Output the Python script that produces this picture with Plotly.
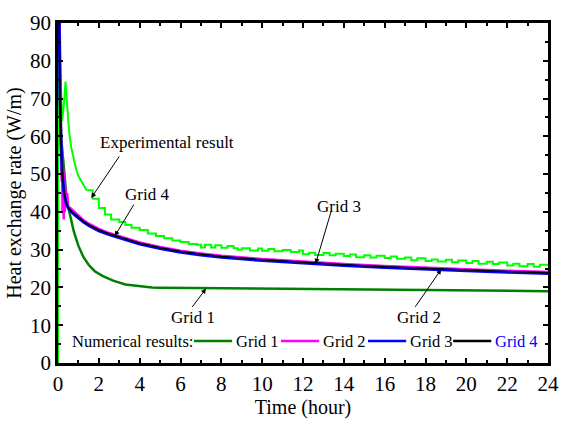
import plotly.graph_objects as go

# ---------------- data ----------------
exp_t = [0, 0.02, 0.1, 0.2, 0.28, 0.37, 0.45, 0.55, 0.65, 0.77, 0.9, 1.0, 1.2, 1.4, 1.7,
         2.0, 2.3, 2.6, 3.0, 3.3, 3.6, 4.0, 4.4, 4.8, 5.2, 5.6, 6.0, 6.4, 6.8, 7.0, 7.2,
         7.5, 7.7, 8.0, 8.3, 8.6, 8.8, 9.0, 9.4, 9.8, 10.0, 10.3, 10.6, 11.0, 11.4, 11.8,
         12.0, 12.3, 12.6, 13.0, 13.3, 13.6, 14.0, 14.3, 14.6, 15.0, 15.3, 15.6, 16.0,
         16.3, 16.6, 17.0, 17.3, 17.6, 18.0, 18.3, 18.6, 19.0, 19.3, 19.6, 20.0, 20.3,
         20.6, 21.0, 21.3, 21.6, 22.0, 22.3, 22.6, 23.0, 23.3, 23.6, 24.0]
exp_v = [0, 95, 80, 64, 68, 74.5, 68, 61, 57, 54, 51, 49.5, 47.5, 45.7, 43.5,
         41, 39.3, 38, 37.3, 36.5, 35.8, 35.2, 34.3, 33.6, 33.0, 32.4, 32.0, 31.5, 31.3, 30.6, 31.3,
         30.6, 31.2, 30.5, 31.0, 30.4, 30.0, 30.4, 29.8, 30.3, 29.7, 30.2, 29.6, 29.9, 29.4, 29.8,
         28.8, 29.2, 28.6, 29.1, 28.5, 28.9, 28.3, 28.7, 28.0, 28.5, 27.9, 28.4, 27.8,
         28.2, 27.6, 27.9, 27.2, 27.7, 27.0, 27.4, 26.9, 27.3, 26.7, 27.1, 26.5, 27.0,
         26.3, 26.8, 26.2, 26.6, 25.8, 26.3, 25.6, 26.2, 25.5, 26.0, 25.8]
EXP_SMOOTH_END = 13  # early peak drawn as straight segments, the rest as steps

g1_t = [0, 0.05, 0.1, 0.15, 0.2, 0.29, 0.43, 0.6, 0.77, 1.0, 1.25, 1.5, 1.8, 2.2, 2.7,
        3.3, 4.0, 4.6, 5, 6, 8, 10, 12, 14, 16, 18, 20, 22, 24]
g1_v = [120, 90, 70, 60, 56, 51.6, 43, 38.5, 34.9, 31, 28, 26, 24.3, 23, 21.8,
        20.8, 20.3, 20.0, 19.95, 19.9, 19.8, 19.7, 19.6, 19.5, 19.4, 19.3, 19.2, 19.1, 19.0]

g2_t = [0, 0.1, 0.13, 0.15, 0.18, 0.2, 0.22, 0.25, 0.28, 0.3, 0.33, 0.36, 0.4, 0.45,
        0.5, 0.6, 0.8, 1.0, 1.25, 1.5, 2, 2.5, 3, 4, 5, 6, 7, 8, 10, 12, 14, 16, 18, 20, 22, 24]
g2_v = [120, 90, 72, 55, 48, 56, 40, 52, 38, 50, 40, 47, 42, 45,
        41, 41, 40, 38.8, 37.8, 36.9, 35.5, 34.4, 33.5, 31.9, 30.7, 29.7, 29.0, 28.4,
        27.5, 26.8, 26.2, 25.7, 25.2, 24.8, 24.4, 24.1]

g3_t = [0, 0.05, 0.1, 0.15, 0.2, 0.3, 0.4, 0.5, 0.6, 0.8, 1.0, 1.25, 1.5, 2, 2.5, 3,
        4, 5, 6, 7, 8, 10, 12, 14, 16, 18, 20, 22, 24]
g3_v = [120, 90, 70, 58, 51, 44.8, 42.3, 41.0, 40.3, 39.3, 38.3, 37.3, 36.4, 35.0, 34.0, 33.1,
        31.5, 30.3, 29.3, 28.6, 28.0, 27.1, 26.4, 25.8, 25.3, 24.8, 24.4, 24.0, 23.7]

g4_t = [0, 0.05, 0.1, 0.15, 0.2, 0.3, 0.4, 0.5, 0.6, 0.8, 1.0, 1.25, 1.5, 2, 2.5, 3,
        4, 5, 6, 7, 8, 10, 12, 14, 16, 18, 20, 22, 24]
g4_v = [120, 90, 70, 58, 51, 45, 42.5, 41.2, 40.5, 39.5, 38.5, 37.5, 36.6, 35.2, 34.2, 33.3,
        31.7, 30.5, 29.5, 28.8, 28.2, 27.3, 26.6, 26.0, 25.5, 25.0, 24.6, 24.2, 23.9]

x_ticks = [0, 2, 4, 6, 8, 10, 12, 14, 16, 18, 20, 22, 24]
y_ticks = [0, 10, 20, 30, 40, 50, 60, 70, 80, 90]

series_names = ["Grid 1", "Grid 2", "Grid 3", "Grid 4"]
series_colors = ["#008000", "#FF00FF", "#0000FF", "#000000"]
label_colors = ["black", "black", "black", "#0000FF"]

# labels: (text, x, y)
labels = [("Experimental result", 5.33, 58.4), ("Grid 4", 4.37, 44.7),
          ("Grid 3", 13.78, 41.5), ("Grid 2", 17.66, 12.1), ("Grid 1", 6.62, 12.1)]
# arrows: tip (x, y) and tail offset in pixels
arrows = [(1.63, 43.7, 29, -43), (2.78, 33.6, 20, -33), (12.62, 26.3, 16, -54),
          (18.77, 24.8, -27, 39), (7.25, 19.7, -15, 20)]

FONT = "Liberation Serif"

# plot-area geometry in pixels (for the hand-laid legend)
L, R, T, B = 58, 559, 15, 371
def px(xp):
    return (xp - L) / (R - L)
def py(yp):
    return (B - yp) / (B - T)

fig = go.Figure()
fig.add_trace(go.Scatter(x=exp_t[:EXP_SMOOTH_END + 1], y=exp_v[:EXP_SMOOTH_END + 1], mode="lines",
                         line=dict(color="#00FF00", width=2), showlegend=False))
fig.add_trace(go.Scatter(x=exp_t[EXP_SMOOTH_END:], y=exp_v[EXP_SMOOTH_END:], mode="lines",
                         line=dict(color="#00FF00", width=2, shape="hv"), showlegend=False))
widths = [2.5, 2.5, 3, 1.5]
for t, v, name, col, w in zip([g1_t, g2_t, g3_t, g4_t], [g1_v, g2_v, g3_v, g4_v],
                              series_names, series_colors, widths):
    fig.add_trace(go.Scatter(x=t, y=v, mode="lines", line=dict(color=col, width=w),
                             name=name, showlegend=False))

for txt, x, y in labels:
    fig.add_annotation(x=x, y=y, text=txt, showarrow=False, xanchor="center", yanchor="middle",
                       font=dict(family=FONT, size=17, color="black"))
for x, y, ax, ay in arrows:
    fig.add_annotation(x=x, y=y, text="", showarrow=True, ax=ax, ay=ay, arrowhead=2,
                       arrowsize=1, arrowwidth=1, arrowcolor="black", standoff=0, startstandoff=0)

# legend row (hand laid out)
leg_y = py(348)
fig.add_annotation(xref="paper", yref="paper", x=px(198), y=leg_y, text="Numerical results:",
                   showarrow=False, xanchor="right", yanchor="middle",
                   font=dict(family=FONT, size=16.5, color="black"))
line_starts = [197, 286, 375, 462]
for i, (name, col, lc) in enumerate(zip(series_names, series_colors, label_colors)):
    x0 = line_starts[i]
    fig.add_shape(type="line", xref="paper", yref="paper", x0=px(x0), x1=px(x0 + 39),
                  y0=leg_y, y1=leg_y, line=dict(color=col, width=2.5))
    fig.add_annotation(xref="paper", yref="paper", x=px(x0 + 41), y=leg_y, text=name,
                       showarrow=False, xanchor="left", yanchor="middle",
                       font=dict(family=FONT, size=16.5, color=lc))

axis_common = dict(showline=True, linewidth=2.5, linecolor="black", mirror="allticks",
                   ticks="inside", ticklen=5, tickwidth=2, tickcolor="black",
                   showgrid=False, zeroline=False,
                   tickfont=dict(family=FONT, size=21, color="black"))

fig.update_xaxes(range=[0, 24], tickvals=x_ticks, ticktext=[str(v) for v in x_ticks],
                 minor=dict(ticks="inside", dtick=1, ticklen=3, tickwidth=1.5, tickcolor="black"),
                 title=dict(text="Time (hour)", font=dict(family=FONT, size=20, color="black"), standoff=2),
                 **axis_common)
fig.update_yaxes(range=[0, 90], tickvals=y_ticks, ticktext=[str(v) for v in y_ticks],
                 minor=dict(ticks="inside", dtick=5, ticklen=3, tickwidth=1.5, tickcolor="black"),
                 title=dict(text="Heat exchange rate (W/m)", font=dict(family=FONT, size=20, color="black"),
                            standoff=4),
                 **axis_common)

fig.update_layout(
    width=570, height=423,
    margin=dict(l=L, r=570 - R, t=T, b=423 - B),
    paper_bgcolor="white", plot_bgcolor="white",
    font=dict(family=FONT, color="black"),
    showlegend=False,
)

fig.write_html("out.html")
